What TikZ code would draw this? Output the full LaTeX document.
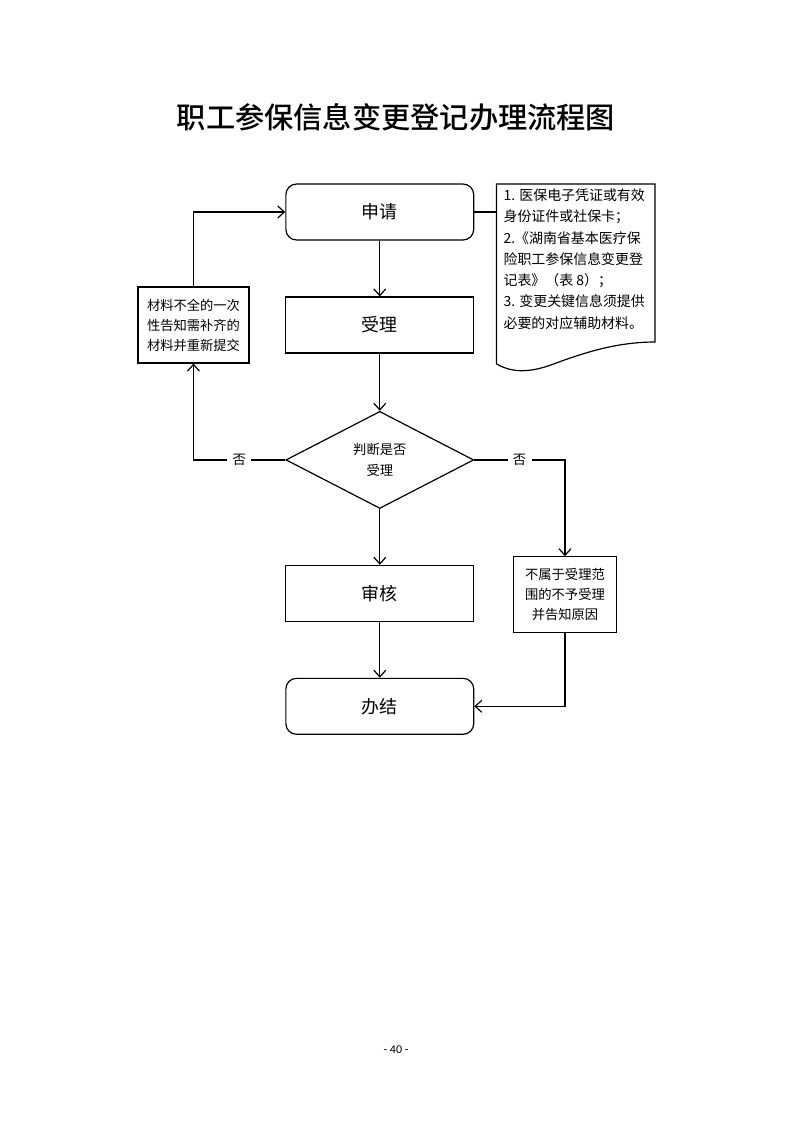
\documentclass[tikz,border=0pt]{standalone}
\usepackage{fontspec}
\setmainfont{Noto Sans CJK SC}
\newfontfamily\titlefont{Noto Sans CJK SC}[UprightFont={* Medium}]
\newfontfamily\pagefont{Carlito}
\usetikzlibrary{shapes.geometric, arrows.meta}

\begin{document}
\begin{tikzpicture}[
    line width=0.9pt,
    stepbox/.style={draw, minimum width=4.97cm, minimum height=1.48cm, font=\fontsize{13.5}{16}\selectfont},
    endbox/.style={stepbox, rounded corners=0.28cm},
    notebox/.style={draw, align=center, minimum height=2.01cm, inner sep=1pt, font=\fontsize{10}{15}\selectfont},
    checkbox/.style={draw, diamond, aspect=2, inner sep=0pt, minimum width=4.97cm, minimum height=2.57cm, align=center, font=\fontsize{10}{16.5}\selectfont},
    flow/.style={-{Straight Barb[length=5pt,width=9pt]}},
    nolabel/.style={fill=white, inner sep=4pt, font=\fontsize{10}{12}\selectfont}
]
\useasboundingbox[fill=white] (0,0) rectangle (20.98,-29.69);

% Title
\node[font=\titlefont\fontsize{22}{26}\selectfont] (title) at (10.48,-3.10) {职工参保信息变更登记办理流程图};

% Main column
\node[endbox] (apply) at (10.05,-5.61) {申请};
\node[stepbox] (accept) at (10.05,-8.60) {受理};
\node[checkbox] (judge) at (10.05,-12.17) {判断是否\\受理};
\node[stepbox] (review) at (10.05,-15.70) {审核};
\node[endbox] (done) at (10.05,-18.69) {办结};

% Side boxes
\node[notebox, minimum width=2.94cm] (resubmit) at (5.12,-8.60) {材料不全的一次\\性告知需补齐的\\材料并重新提交};
\node[notebox, minimum width=2.73cm] (reject) at (14.95,-15.74) {不属于受理范\\围的不予受理\\并告知原因};

% Document shape with required materials
\draw (13.14,-4.87) -- (17.33,-4.87) -- (17.33,-9.05)
    .. controls (16.3,-9.05) and (15.4,-9.35) .. (14.6,-9.65)
    .. controls (14.1,-9.83) and (13.6,-9.9) .. (13.14,-9.63) -- cycle;
\coordinate (docw) at (13.14,-5.61);
\node[anchor=north west, align=left, inner sep=0pt, font=\fontsize{10.5}{16}\selectfont] (docnote) at (13.31,-4.98) {%
    1. 医保电子凭证或有效\\
    身份证件或社保卡；\\
    2.《湖南省基本医疗保\\
    险职工参保信息变更登\\
    记表》（表 8）；\\
    3. 变更关键信息须提供\\
    必要的对应辅助材料。};

% Connectors
\draw[flow] (apply) -- (accept);
\draw[flow] (accept) -- (judge);
\draw[flow] (judge) -- (review);
\draw[flow] (review) -- (done);
\draw (apply.east) -- (docw);
\draw[flow] (judge.west) -| node[nolabel, pos=0.25] {否} (resubmit.south);
\draw[flow] (resubmit.north) |- (apply.west);
\draw[flow] (judge.east) -| node[nolabel, pos=0.25] {否} (reject.north);
\draw[flow] (reject.south) |- (done.east);

% Page number
\node[font=\pagefont\fontsize{9}{11}\selectfont] (page) at (10.48,-27.78) {- 40 -};
\end{tikzpicture}
\end{document}
